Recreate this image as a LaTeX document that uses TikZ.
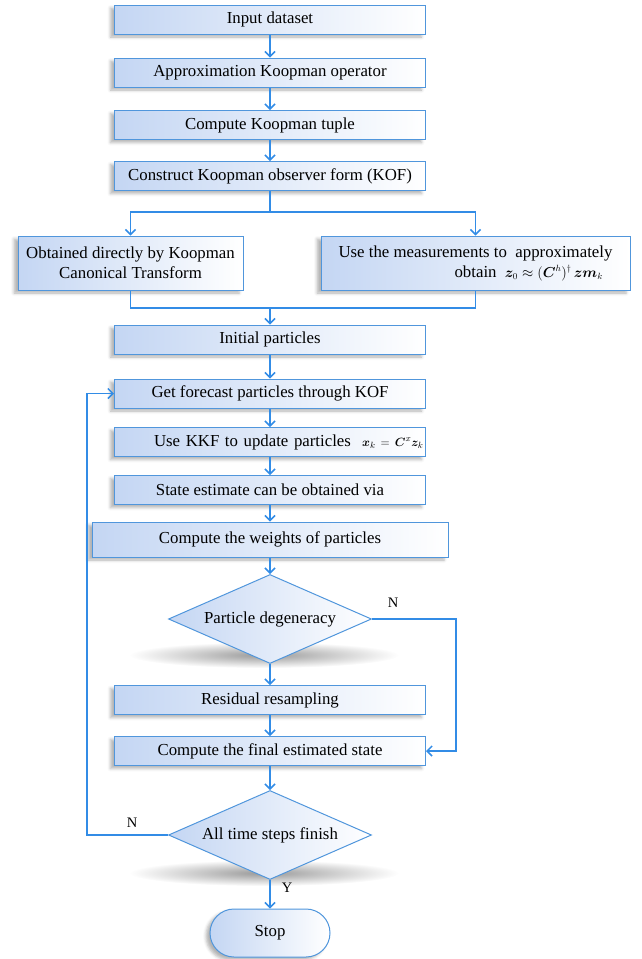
\documentclass[tikz,border=0pt]{standalone}
\usepackage{fontspec}
\setmainfont{Liberation Serif}
\usepackage{amsmath,amssymb,bm}
\usetikzlibrary{shapes.geometric,arrows.meta,shadows.blur}
\definecolor{bord}{RGB}{80,150,220}
\definecolor{lin}{RGB}{50,140,230}
\definecolor{fillL}{RGB}{196,214,243}
\begin{document}
\begin{tikzpicture}[x=1pt,y=-1pt,
  boxbase/.style={draw=bord, line width=1pt, left color=fillL, right color=white,
    inner sep=0pt, font=\fontsize{16.8}{20}\selectfont,
    blur shadow={shadow xshift=-4pt, shadow yshift=-3pt, shadow blur radius=3pt, shadow opacity=30}},
  stepbox/.style={boxbase, minimum width=311pt, minimum height=29pt},
  decbox/.style={draw=bord, line width=1pt, left color=fillL, right color=white,
    diamond, aspect=2.28, inner sep=0pt, minimum width=203pt, minimum height=89pt,
    font=\fontsize{16.8}{20}\selectfont},
  conn/.style={draw=lin, line width=1.5pt},
  arr/.style={conn, -{Straight Barb[length=5pt,width=10pt]}},
  lab/.style={font=\fontsize{14.5}{16}\selectfont, inner sep=0pt}]
\useasboundingbox (0,0) rectangle (641,959);
% diamond shadows
\shade[inner color=black!40, outer color=white] (264,655) ellipse [x radius=135pt, y radius=13pt];
\shade[inner color=black!40, outer color=white] (264,873) ellipse [x radius=135pt, y radius=13pt];

\node[stepbox] (in) at (270,19.5) {Input dataset};
\node[stepbox] (ap) at (270,72.5) {Approximation Koopman operator};
\node[stepbox] (ct) at (270,125) {Compute Koopman tuple};
\node[stepbox] (kof) at (270,176) {Construct Koopman observer form (KOF)};
\node[boxbase, minimum width=225pt, minimum height=54pt, align=center] (ob) at (130.5,263)
  {Obtained directly by Koopman\\Canonical Transform};
\node[boxbase, minimum width=309pt, minimum height=54pt, align=left] (um) at (475.5,263)
  {Use the measurements to~~approximately\\\hspace*{116pt}obtain~ {\fontsize{13.5}{15}\selectfont$\boldsymbol{z}_0\approx(\boldsymbol{C}^h)^{\dagger}\,\boldsymbol{zm}_k$}};
\node[stepbox] (ip) at (270,339.5) {Initial particles};
\node[stepbox] (gf) at (270,393.5) {Get forecast particles through KOF};
\node[stepbox, text width=307pt, align=right] (uk) at (270,442)
  {Use KKF to update particles~ {\fontsize{12.5}{14}\selectfont$\boldsymbol{x}_k\!=\!\boldsymbol{C}^x\boldsymbol{z}_k$}};
\node[stepbox] (se) at (270,490) {State estimate can be obtained via};
\node[boxbase, minimum width=356pt, minimum height=35pt] (cw) at (270,539.5) {Compute the weights of particles};
\node[decbox] (pd) at (270,619) {Particle degeneracy};
\node[stepbox] (rr) at (270,700) {Residual resampling};
\node[stepbox] (cf) at (270,751) {Compute the final estimated state};
\node[decbox] (at) at (270,835) {All time steps finish};
\node[boxbase, minimum width=120pt, minimum height=48pt, rounded corners=24pt] (stop) at (270,933) {Stop};

\coordinate (sp) at (270,212);
\coordinate (mg) at (270,308);
\coordinate (rN) at (456,619);
\coordinate (lN) at (87,835);

\draw[arr] (in) -- (ap);
\draw[arr] (ap) -- (ct);
\draw[arr] (ct) -- (kof);
\draw[conn] (kof) -- (sp);
\draw[arr] (sp) -| (ob.north);
\draw[arr] (sp) -| (um.north);
\draw[conn] (ob.south) |- (mg);
\draw[conn] (um.south) |- (mg);
\draw[arr] (mg) -- (ip);
\draw[arr] (ip) -- (gf);
\draw[arr] (gf) -- (uk);
\draw[arr] (uk) -- (se);
\draw[arr] (se) -- (cw);
\draw[arr] (cw) -- (pd);
\draw[arr] (pd) -- (rr);
\draw[arr] (rr) -- (cf);
\draw[arr] (cf) -- (at);
\draw[arr] (at) -- (stop);
\draw[arr] (pd.east) -- (rN) |- (cf.east);
\draw[arr] (at.west) -- (lN) |- (gf.west);

\node[lab] (n1) at (393,603) {N};
\node[lab] (n2) at (132,823) {N};
\node[lab] (y1) at (287,888) {Y};
\end{tikzpicture}
\end{document}
